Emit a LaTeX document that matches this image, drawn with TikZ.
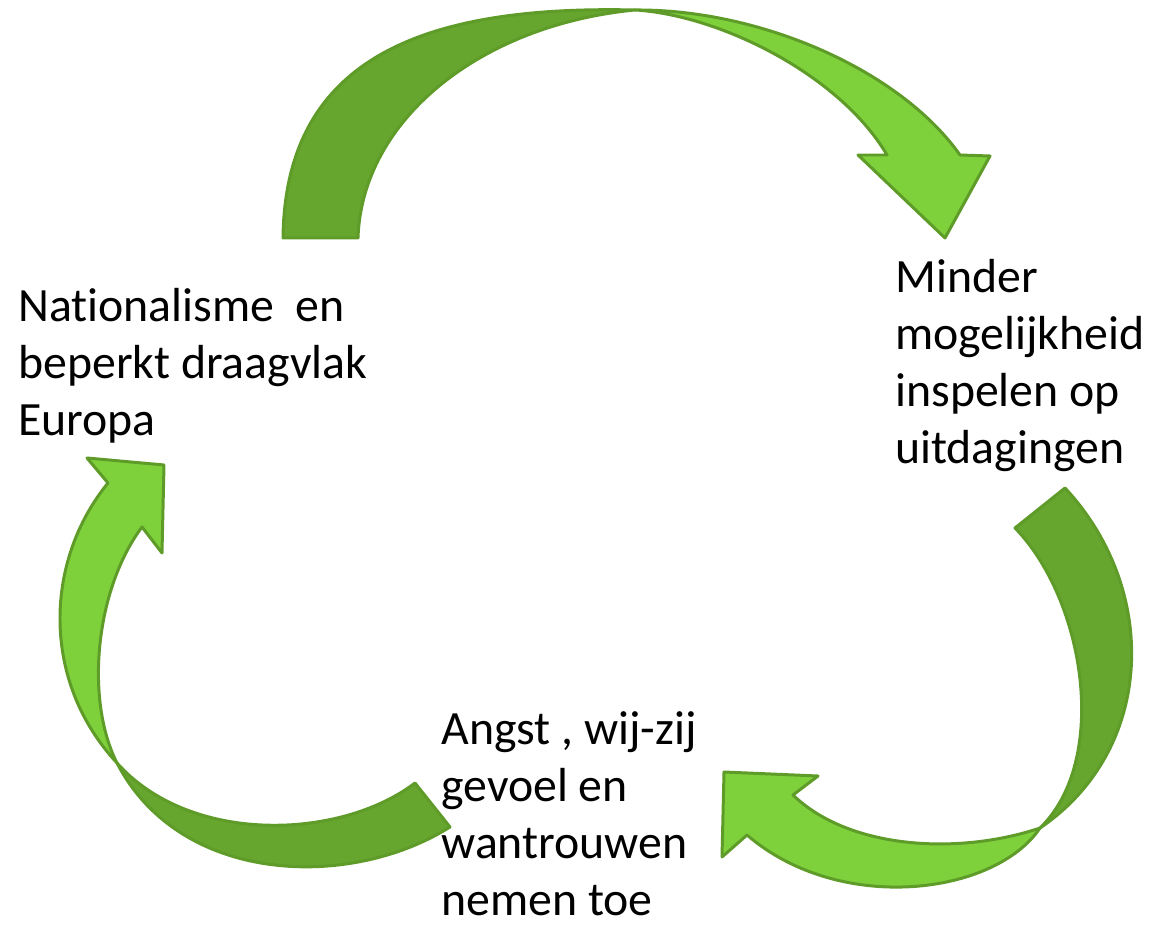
\documentclass[tikz,border=0pt]{standalone}
\usepackage{fontspec}
\setmainfont{Carlito}[Ligatures=NoCommon]
\usepackage{tikz}
\definecolor{arrowdark}{RGB}{102,165,46}
\definecolor{arrowlight}{RGB}{126,209,59}
\definecolor{arrowline}{RGB}{94,155,40}

\begin{document}
\begin{tikzpicture}[x=0.02cm,y=-0.02cm,
    backband/.style={fill=arrowdark,draw=arrowline,line width=1.7pt,line join=round},
    frontband/.style={fill=arrowlight,draw=arrowline,line width=1.7pt,line join=round},
    cycletext/.style={anchor=north west,inner sep=0pt,align=left,font=\fontsize{27.2}{32.5}\selectfont}]
  \useasboundingbox (0,0) rectangle (1149,925);
  % top arrow
  \draw [backband] (283,238) .. controls (285,60) and (420,5) .. (635,10)
    .. controls (480,25) and (362,120) .. (358,238) -- cycle;
  \draw [frontband] (635,10) .. controls (760,9) and (900,70) .. (960,155)
    -- (990,156) -- (945,238) -- (858,155) -- (887,155)
    .. controls (840,75) and (720,15) .. (635,10) -- cycle;
  % right arrow
  \draw [backband] (1065,488) .. controls (1160,590) and (1155,750) .. (1040,828)
    .. controls (1110,760) and (1085,600) .. (1015,528) -- cycle;
  \draw [frontband] (1040,828) .. controls (995,895) and (840,915) .. (747,835)
    -- (722,857) -- (724,772) -- (818,776) -- (793,795)
    .. controls (850,850) and (960,855) .. (1040,828) -- cycle;
  % left arrow
  \draw [backband] (450,827) .. controls (350,890) and (180,885) .. (117,763)
    .. controls (190,845) and (340,840) .. (415,783) -- cycle;
  \draw [frontband] (117,763) .. controls (40,680) and (45,560) .. (108,483)
    -- (87,458) -- (164,465) -- (162,553) -- (142,527)
    .. controls (95,590) and (85,700) .. (117,763) -- cycle;
  % texts
  \node [cycletext] (nationalisme) at (18,288) {Nationalisme\ \ en\\beperkt draagvlak\\Europa};
  \node [cycletext] (minder) at (895,259) {Minder\\mogelijkheid\\inspelen op\\uitdagingen};
  \node [cycletext] (angst) at (441,711) {Angst , wij-zij\\gevoel en\\wantrouwen\\nemen toe};
\end{tikzpicture}
\end{document}
